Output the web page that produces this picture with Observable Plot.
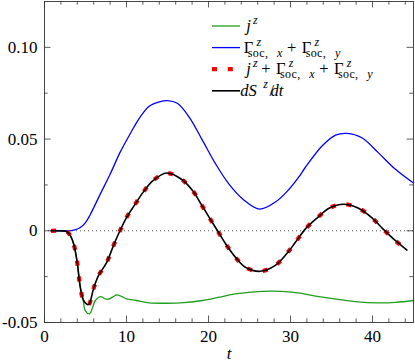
<!DOCTYPE html>
<html><head><meta charset="utf-8">
<script src="https://cdn.jsdelivr.net/npm/d3@7"></script>
<script src="https://cdn.jsdelivr.net/npm/@observablehq/plot@0.6"></script>
<style>
body{margin:0;background:#fff;} svg{display:block}
svg text { font-family: "Liberation Serif", "Times New Roman", serif; }
</style>
</head><body><div id="chart"></div>
<script>
// ---- data ----
const tJ = [0.8, 2.0, 2.75, 3.2, 3.56, 3.96, 4.37, 4.7, 4.97, 5.5, 5.85, 6.2, 6.8, 7.4, 7.8, 8.3, 8.8, 9.4, 10.0, 11.2, 12.8, 14.8, 17.0, 19.3, 21.3, 23.3, 26.5, 28.9, 30.9, 33.9, 37.9, 40.7, 42.8, 45.0];
const vJ = [0, 0, -0.0005, -0.003, -0.0072, -0.0163, -0.0308, -0.037, -0.0435, -0.0453, -0.042, -0.038, -0.0359, -0.0371, -0.0373, -0.0362, -0.035, -0.0358, -0.0371, -0.038, -0.0393, -0.0395, -0.0392, -0.038, -0.0362, -0.0344, -0.033, -0.033, -0.0339, -0.0362, -0.0386, -0.0393, -0.039, -0.038];

const tGamma = [0.8, 2.0, 3.1, 3.7, 4.37, 5.0, 5.6, 6.8, 8.0, 9.2, 10.4, 11.6, 12.8, 14.0, 15.0, 16.2, 17.7, 19.3, 20.9, 22.5, 24.2, 26.2, 28.2, 29.8, 31.0, 31.8, 33.9, 35.5, 36.9, 38.7, 40.7, 42.8, 45.0];
const vGamma = [0, 0, 0, 0.0005, 0.0018, 0.0045, 0.009, 0.020, 0.0308, 0.0426, 0.0525, 0.0616, 0.068, 0.0703, 0.0710, 0.0695, 0.0616, 0.049, 0.0362, 0.0254, 0.0172, 0.0118, 0.0158, 0.0225, 0.0292, 0.0345, 0.0465, 0.0522, 0.0531, 0.0507, 0.0426, 0.0335, 0.026];

const tSum = [0.8, 2.0, 2.75, 3.2, 3.56, 3.96, 4.37, 4.77, 5.37, 5.97, 6.58, 7.59, 8.4, 9.2, 10.0, 11.0, 12.0, 13.2, 14.9, 16.7, 18.1, 19.1, 20.1, 21.1, 22.1, 23.3, 24.5, 26.3, 28.1, 29.5, 30.6, 31.8, 33.3, 34.7, 36.5, 38.3, 39.9, 41.3, 42.8, 44.2];
const vSum = [0, 0, -0.0005, -0.003, -0.0072, -0.0163, -0.0308, -0.038, -0.0402, -0.0317, -0.0245, -0.0172, -0.0082, 0, 0.0072, 0.0141, 0.0208, 0.0272, 0.0315, 0.0281, 0.0217, 0.0145, 0.0072, 0, -0.0072, -0.0145, -0.0199, -0.0221, -0.019, -0.0127, -0.0063, 0.0009, 0.0072, 0.0123, 0.0145, 0.0123, 0.0072, 0.0009, -0.0054, -0.0105];

const tDS = [0.8, 2.0, 2.75, 3.2, 3.56, 3.96, 4.37, 4.77, 5.37, 5.97, 6.58, 7.59, 8.4, 9.2, 10.0, 11.0, 12.0, 13.2, 14.9, 16.7, 18.1, 19.1, 20.1, 21.1, 22.1, 23.3, 24.5, 26.3, 28.1, 29.5, 30.6, 31.8, 33.3, 34.7, 36.5, 38.3, 39.9, 41.3, 42.8, 44.2];
const vDS = [0, 0, -0.0005, -0.003, -0.0072, -0.0163, -0.0308, -0.038, -0.0402, -0.0317, -0.0245, -0.0172, -0.0082, 0, 0.0072, 0.0141, 0.0208, 0.0272, 0.0315, 0.0281, 0.0217, 0.0145, 0.0072, 0, -0.0072, -0.0145, -0.0199, -0.0221, -0.019, -0.0127, -0.0063, 0.0009, 0.0072, 0.0123, 0.0145, 0.0123, 0.0072, 0.0009, -0.0054, -0.0105];

const xMajorTicks = [0, 10, 20, 30, 40];
const xMinorTicks = [2, 4, 6, 8, 12, 14, 16, 18, 22, 24, 26, 28, 32, 34, 36, 38, 42, 44];
const yMajorTicks = [-0.05, 0, 0.05, 0.10];
const yTickLabels = ["-0.05", "0", "0.05", "0.10"];
const yMinorTicks = [-0.025, 0.025, 0.075];
const xLabel = "t";

// ---- layout & style ----
const W = 415, H = 363, mL = 44, mR = 2, mT = 1, mB = 41;
const innerW = W - mL - mR, innerH = H - mT - mB;
const font = "\"Liberation Serif\", \"Times New Roman\", serif";
const cGreen = "#1f9d1f", cBlue = "#0000ff", cRed = "#ff0000", cBlack = "#000000", cAxis = "#333";
const majorLen = 6.5, minorLen = 3.7;

const rows = (ts, vs) => ts.map((t, i) => ({t, v: vs[i]}));

const chart = Plot.plot({
  width: W, height: H,
  marginLeft: mL, marginRight: mR, marginTop: mT, marginBottom: mB,
  style: {fontFamily: font, fontSize: "17px", background: "#fff", color: "#000"},
  x: {domain: [0, 45]},
  y: {domain: [-0.05, 0.125]},
  marks: [
    Plot.ruleY([0], {stroke: "#555", strokeDasharray: "1,3", strokeWidth: 1}),
    Plot.line(rows(tJ, vJ), {x: "t", y: "v", stroke: cGreen, strokeWidth: 1.3, curve: "catmull-rom"}),
    Plot.line(rows(tGamma, vGamma), {x: "t", y: "v", stroke: cBlue, strokeWidth: 1.3, curve: "catmull-rom"}),
    Plot.line(rows(tSum, vSum), {x: "t", y: "v", stroke: cRed, strokeWidth: 4.2, strokeDasharray: "5,10.8", strokeLinecap: "butt", curve: "catmull-rom"}),
    Plot.line(rows(tDS, vDS), {x: "t", y: "v", stroke: cBlack, strokeWidth: 1.6, curve: "catmull-rom"}),
    Plot.frame({stroke: cAxis, strokeWidth: 0.9}),
    // inward ticks on all four sides
    Plot.ruleX(xMajorTicks, {stroke: cAxis, strokeWidth: 0.8, insetTop: innerH - majorLen}),
    Plot.ruleX(xMajorTicks, {stroke: cAxis, strokeWidth: 0.8, insetBottom: innerH - majorLen}),
    Plot.ruleX(xMinorTicks, {stroke: cAxis, strokeWidth: 0.8, insetTop: innerH - minorLen}),
    Plot.ruleX(xMinorTicks, {stroke: cAxis, strokeWidth: 0.8, insetBottom: innerH - minorLen}),
    Plot.ruleY(yMajorTicks, {stroke: cAxis, strokeWidth: 0.8, insetRight: innerW - majorLen}),
    Plot.ruleY(yMajorTicks, {stroke: cAxis, strokeWidth: 0.8, insetLeft: innerW - majorLen}),
    Plot.ruleY(yMinorTicks, {stroke: cAxis, strokeWidth: 0.8, insetRight: innerW - minorLen}),
    Plot.ruleY(yMinorTicks, {stroke: cAxis, strokeWidth: 0.8, insetLeft: innerW - minorLen}),
    Plot.axisX({ticks: xMajorTicks, tickSize: 0, tickPadding: 7, label: null, fontSize: 17}),
    Plot.axisY({ticks: yMajorTicks, tickSize: 0, tickPadding: 7, label: null, fontSize: 17,
      tickFormat: d => yTickLabels[yMajorTicks.indexOf(d)]}),
    Plot.text([xLabel], {frameAnchor: "bottom", lineAnchor: "bottom", dy: 36, fontStyle: "italic", fontSize: 17})
  ]
});
document.getElementById("chart").appendChild(chart);

// ---- legend (math-style labels) ----
const Z = [{s: "z", it: true}];
const SOCX = [{s: "soc,"}, {s: "x", it: true, pre: 1.2}];
const SOCY = [{s: "soc,"}, {s: "y", it: true, pre: 1.2}];
const legendItems = [
  {stroke: cGreen, width: 1.3, dash: null,
   label: [{parts: [{s: "j", it: true}]}, {sup: Z, kern: 2.2}]},
  {stroke: cBlue, width: 1.3, dash: null,
   label: [{parts: [{s: "Γ"}]}, {sup: Z, sub: SOCX}, {op: "+"},
           {parts: [{s: "Γ"}]}, {sup: Z, sub: SOCY}]},
  {stroke: cRed, width: 4.2, dash: "5,10.8",
   label: [{parts: [{s: "j", it: true}]}, {sup: Z, kern: 2.2}, {op: "+"},
           {parts: [{s: "Γ"}]}, {sup: Z, sub: SOCX}, {op: "+"},
           {parts: [{s: "Γ"}]}, {sup: Z, sub: SOCY}]},
  {stroke: cBlack, width: 1.6, dash: null,
   label: [{parts: [{s: "dS", it: true}]}, {sup: Z, kern: 0.6}, {parts: [{s: "/", pre: 1}, {s: "dt", it: true, pre: 0.5}]}]}
];

const mainSize = 16.5, scriptSize = 12, supRaise = 7, supAlone = 7.5, subDrop = 4, subSpacing = 0.4, opSpace = 5.5;
const svg = d3.select(chart);
const lg = svg.append("g").attr("fill", "#000");
const lgText = lg.append("text").attr("font-family", font);

function addRun(x, y, parts, size, spacing) {
  let w = 0;
  parts.forEach(p => {
    w += p.pre || 0;
    const ts = lgText.append("tspan").attr("x", x + w).attr("y", y).attr("font-size", size)
      .attr("font-style", p.it ? "italic" : "normal").text(p.s);
    if (spacing) ts.attr("letter-spacing", spacing);
    w += ts.node().getComputedTextLength();
  });
  return w;
}
function math(x, y, items) {
  let cx = x;
  for (const it of items) {
    if (it.sup || it.sub) {
      const k = it.kern || 0.8;
      const w1 = it.sup ? addRun(cx + k, y - (it.sub ? supRaise : supAlone), it.sup, scriptSize) + k : 0;
      const w2 = it.sub ? addRun(cx, y + subDrop, it.sub, scriptSize, subSpacing) : 0;
      cx += Math.max(w1, w2) + 0.5;
    } else if (it.op) {
      cx += opSpace;
      cx += addRun(cx, y, [{s: it.op}], mainSize);
      cx += opSpace;
    } else {
      cx += addRun(cx, y, it.parts, mainSize);
    }
  }
}
const lgX0 = 212, lgX1 = 240, lgTextX = 248.5, lgY0 = 26, lgDy = 21.6;
legendItems.forEach((item, i) => {
  const y = lgY0 + i * lgDy;
  const ln = lg.append("line").attr("x1", lgX0).attr("x2", lgX1).attr("y1", y).attr("y2", y)
    .attr("stroke", item.stroke).attr("stroke-width", item.width);
  if (item.dash) ln.attr("stroke-dasharray", item.dash);
  math(lgTextX, y + 5, item.label);
});
</script>
</body></html>
